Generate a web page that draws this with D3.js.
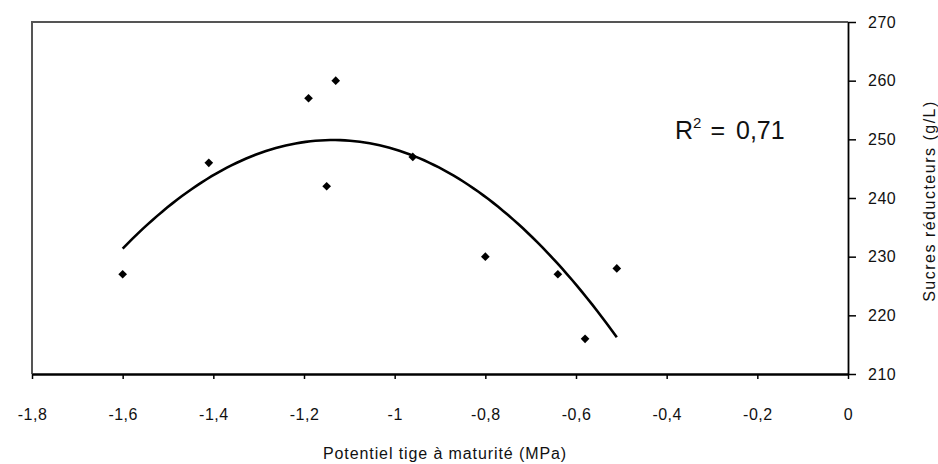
<!DOCTYPE html>
<html>
<head>
<meta charset="utf-8">
<script src="https://cdn.jsdelivr.net/npm/d3@7"></script>
<style>
  body { margin: 0; background: #fff; }
  svg text { font-family: "Liberation Sans", Arial, sans-serif; fill: #111; }
</style>
</head>
<body>
<div class="chart"></div>
<script>
// potentiel tige (MPa) vs sucres réducteurs (g/L)
var potentiel = [-1.6, -1.41, -1.19, -1.13, -1.15, -0.96, -0.8, -0.64, -0.58, -0.51];
var sucres = [227, 246, 257, 260, 242, 247, 230, 227, 216, 228];
var xTicks = [-1.8, -1.6, -1.4, -1.2, -1, -0.8, -0.6, -0.4, -0.2, 0];
var yTicks = [210, 220, 230, 240, 250, 260, 270];
var r2Label = "0,71";

var margin = { top: 22, right: 90, bottom: 90, left: 32 },
    width = 938 - margin.left - margin.right,
    height = 464 - margin.top - margin.bottom;

var svg = d3.select(".chart").append("svg")
    .attr("width", 938)
    .attr("height", 464)
    .append("g")
    .attr("transform", "translate(" + margin.left + "," + margin.top + ")");

var x = d3.scaleLinear().domain([-1.8, 0]).range([0, width]);
var y = d3.scaleLinear().domain([210, 270]).range([height, 0]);

var fmt = function (d) { return String(d).replace(".", ","); };

// frame (top + left, grey)
svg.append("path")
    .attr("d", "M0," + height + "V0H" + width)
    .attr("fill", "none")
    .attr("stroke", "#555")
    .attr("stroke-width", 2);

var xAxis = svg.append("g")
    .attr("transform", "translate(0," + height + ")")
    .call(d3.axisBottom(x).tickValues(xTicks).tickFormat(fmt).tickSize(5).tickSizeOuter(0).tickPadding(30));
xAxis.select(".domain").attr("stroke", "#000").attr("stroke-width", 2.5);
xAxis.selectAll(".tick line").attr("stroke-width", 1.5);
xAxis.selectAll("text").style("font-size", "16px").style("letter-spacing", "0.5px");

var yAxis = svg.append("g")
    .attr("transform", "translate(" + width + ",0)")
    .call(d3.axisRight(y).tickValues(yTicks).tickSize(8).tickSizeOuter(0).tickPadding(12));
yAxis.select(".domain").attr("stroke-width", 1.8);
yAxis.selectAll(".tick line").attr("stroke-width", 1.5);
yAxis.selectAll("text").style("font-size", "16px").style("letter-spacing", "0.5px");

svg.append("text")
    .attr("x", width / 2 + 5)
    .attr("y", height + 85)
    .attr("text-anchor", "middle")
    .style("font-size", "16px")
    .style("letter-spacing", "0.9px")
    .text("Potentiel tige à maturité (MPa)");

svg.append("text")
    .attr("transform", "translate(" + (width + 87) + "," + (201 - margin.top) + ") rotate(-90)")
    .attr("text-anchor", "middle")
    .style("font-size", "16px")
    .style("letter-spacing", "1.5px")
    .text("Sucres réducteurs (g/L)");

// polynomial (order 2) trend, least squares on the points
function quadFit(xs, ys) {
    var n = xs.length, s = [0, 0, 0, 0, 0], t = [0, 0, 0];
    for (var i = 0; i < n; i++) {
        var p = 1;
        for (var k = 0; k < 5; k++) { s[k] += p; if (k < 3) t[k] += p * ys[i]; p *= xs[i]; }
    }
    var m = [[s[0], s[1], s[2], t[0]], [s[1], s[2], s[3], t[1]], [s[2], s[3], s[4], t[2]]];
    for (var c = 0; c < 3; c++) {
        for (var r = c + 1; r < 3; r++) {
            var f = m[r][c] / m[c][c];
            for (var j = c; j < 4; j++) m[r][j] -= f * m[c][j];
        }
    }
    var b = [0, 0, 0];
    for (var r2 = 2; r2 >= 0; r2--) {
        var v = m[r2][3];
        for (var j2 = r2 + 1; j2 < 3; j2++) v -= m[r2][j2] * b[j2];
        b[r2] = v / m[r2][r2];
    }
    return function (v) { return b[0] + b[1] * v + b[2] * v * v; };
}
var trend = quadFit(potentiel, sucres);
var xs = d3.extent(potentiel);
var curve = d3.range(0, 101).map(function (i) {
    var v = xs[0] + (xs[1] - xs[0]) * i / 100;
    return [v, trend(v)];
});

svg.append("path")
    .datum(curve)
    .attr("fill", "none")
    .attr("stroke", "#000")
    .attr("stroke-width", 2.6)
    .attr("d", d3.line().x(function (d) { return x(d[0]); }).y(function (d) { return y(d[1]); }));

// diamond markers
svg.selectAll(".pt")
    .data(potentiel)
    .enter().append("path")
    .attr("class", "pt")
    .attr("d", d3.symbol().type(d3.symbolDiamond2).size(48))
    .attr("transform", function (d, i) { return "translate(" + x(d) + "," + y(sucres[i]) + ")"; })
    .attr("fill", "#000");

var r2 = svg.append("text")
    .attr("x", 643)
    .attr("y", 117)
    .style("font-size", "25px");
r2.append("tspan").text("R");
r2.append("tspan").attr("dy", -11).style("font-size", "15px").text("2");
r2.append("tspan").attr("dy", 11).attr("dx", 9).text("=");
r2.append("tspan").attr("dx", 11).text(r2Label);
</script>
</body>
</html>
